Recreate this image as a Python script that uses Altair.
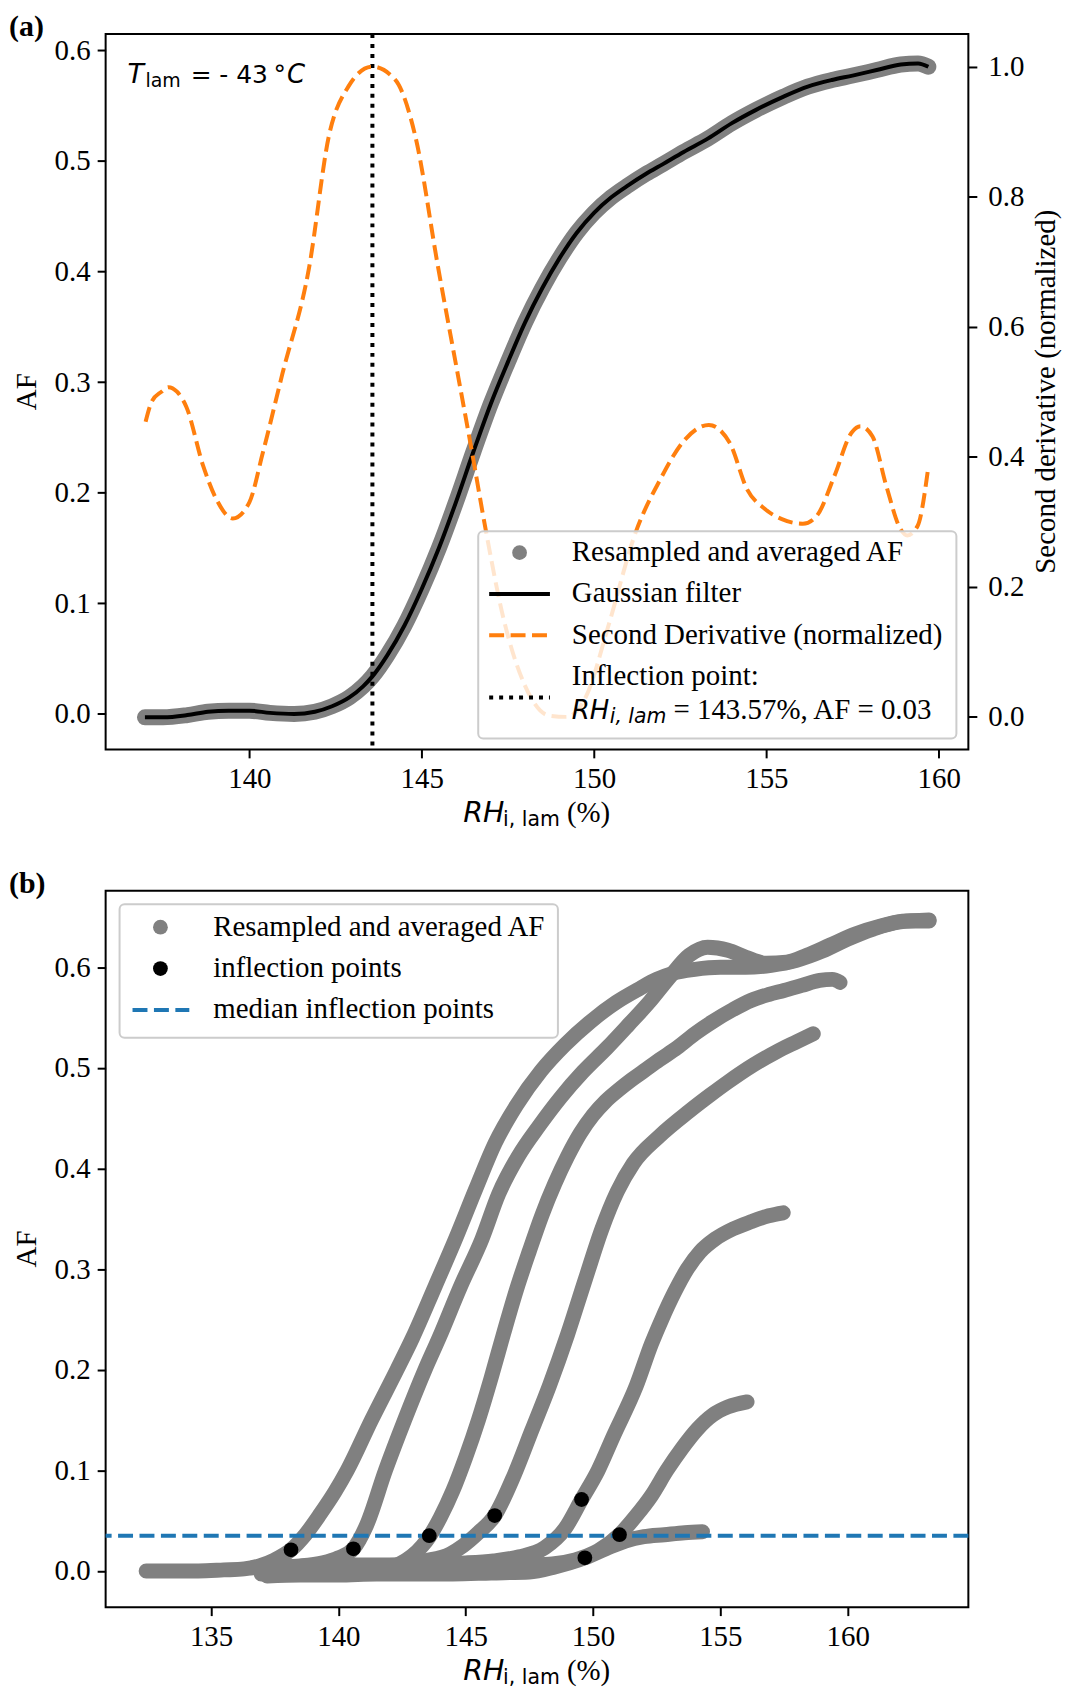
import altair as alt
import pandas as pd

# fonts / colours
SERIF = "Liberation Serif"
SANS = "DejaVu Sans"
GREY = "#808080"
ORANGE = "#ff7f0e"
BLUE = "#1f77b4"

# (a) T_lam = -43 °C : resampled and averaged AF (the Gaussian filter sits on it)
rh_a = [136.97, 137.5, 138.2, 138.8, 139.4, 140.0, 140.6, 141.3, 141.9, 142.4, 142.9,
        143.3, 143.57, 144.0, 144.5, 145.0, 145.5, 146.0, 146.5, 147.0, 147.5, 148.0,
        148.5, 149.0, 149.5, 150.0, 150.5, 151.0, 151.5, 152.0, 152.6, 153.3, 154.0,
        154.7, 155.5, 156.2, 156.9, 157.5, 158.2, 158.9, 159.4, 159.7]
af_a = [-0.003, -0.003, -0.001, 0.002, 0.003, 0.003, 0.001, 0.0, 0.002, 0.007, 0.015,
        0.025, 0.034, 0.053, 0.080, 0.113, 0.150, 0.192, 0.237, 0.280, 0.318, 0.354,
        0.385, 0.412, 0.435, 0.453, 0.467, 0.478, 0.488, 0.497, 0.508, 0.520, 0.534,
        0.546, 0.558, 0.567, 0.573, 0.577, 0.582, 0.587, 0.588, 0.585]

# (a) second derivative, normalized (right axis)
rh_d2 = [136.99, 137.17, 137.45, 137.65, 137.9, 138.17, 138.66, 139.04, 139.52, 140.0,
         140.39, 140.96, 141.73, 142.31, 142.88, 143.56, 144.23, 144.81, 145.48, 146.06,
         146.44, 146.87, 147.37, 147.98, 148.69, 149.19, 149.8, 150.4, 151.21, 151.92,
         152.63, 153.33, 153.94, 154.44, 154.95, 155.45, 156.06, 156.46, 156.97, 157.47,
         157.73, 158.08, 158.48, 158.89, 159.09, 159.39, 159.7]
d2_a = [0.454, 0.485, 0.500, 0.507, 0.500, 0.477, 0.386, 0.335, 0.305, 0.330,
        0.406, 0.528, 0.690, 0.894, 0.970, 1.0, 0.980, 0.894, 0.690, 0.523,
        0.413, 0.284, 0.152, 0.050, 0.002, 0.0, 0.035, 0.137, 0.284, 0.365,
        0.426, 0.449, 0.421, 0.350, 0.320, 0.304, 0.297, 0.309, 0.370, 0.437,
        0.447, 0.431, 0.355, 0.289, 0.279, 0.294, 0.385]

infl_rh_a = [143.57]

# (b) all runs
b1_rh = [132.45, 133.5, 134.5, 135.5, 136.3, 136.9, 137.5, 138.14, 138.7, 139.3, 139.85,
         140.35, 141.3, 142.3, 142.92, 143.8, 144.6, 145.4, 146.15, 147.0, 147.96, 148.9,
         149.9, 150.9, 151.84, 152.5, 153.13, 154.0, 155.0, 156.0, 157.0, 158.0, 159.0,
         160.0, 161.0, 162.0, 163.2]
b1_af = [0.0, 0.0, 0.0, 0.001, 0.002, 0.005, 0.011, 0.021, 0.036, 0.057, 0.078,
         0.100, 0.150, 0.200, 0.232, 0.283, 0.330, 0.380, 0.425, 0.463, 0.497, 0.523,
         0.546, 0.565, 0.579, 0.588, 0.594, 0.598, 0.600, 0.600, 0.602, 0.607, 0.616,
         0.628, 0.638, 0.645, 0.647]

b2_rh = [136.6, 137.5, 138.5, 139.4, 140.0, 140.59, 141.1, 141.85, 142.6, 143.4, 143.96,
         144.8, 145.64, 146.3, 147.06, 147.9, 148.74, 149.6, 150.55, 151.4, 152.23, 153.0,
         153.78, 154.5, 155.3, 156.0, 156.8, 157.6, 158.4, 159.3, 160.3, 161.3, 162.3,
         163.2]
b2_af = [0.003, 0.004, 0.005, 0.008, 0.013, 0.022, 0.045, 0.100, 0.150, 0.200, 0.232,
         0.283, 0.330, 0.375, 0.412, 0.443, 0.471, 0.496, 0.520, 0.543, 0.566, 0.590,
         0.612, 0.620, 0.617, 0.610, 0.604, 0.605, 0.612, 0.622, 0.633, 0.641, 0.646,
         0.646]

b3_rh = rh_a
b3_af = af_a

b4_rh = [137.4, 138.5, 139.5, 140.5, 141.5, 142.5, 143.4, 144.4, 144.9, 145.5, 146.14,
         146.9, 147.6, 148.3, 149.0, 149.7, 150.35, 150.95, 151.58, 152.6, 153.78, 154.6,
         155.3, 156.3, 157.2, 158.0, 158.65]
b4_af = [0.0, 0.002, 0.003, 0.004, 0.005, 0.006, 0.010, 0.017, 0.025, 0.038, 0.055,
         0.095, 0.140, 0.185, 0.235, 0.290, 0.340, 0.377, 0.405, 0.432, 0.457, 0.473,
         0.486, 0.503, 0.516, 0.526, 0.534]

b5_rh = [137.8, 139.0, 140.5, 142.0, 143.5, 145.0, 146.1, 147.1, 148.1, 148.9, 149.55,
         150.2, 150.8, 151.7, 152.3, 152.7, 153.2, 153.7, 154.2, 154.8, 155.5, 156.2,
         156.9, 157.47]
b5_af = [0.004, 0.005, 0.006, 0.006, 0.007, 0.008, 0.010, 0.014, 0.023, 0.042, 0.071,
         0.100, 0.134, 0.184, 0.226, 0.250, 0.277, 0.300, 0.317, 0.330, 0.340, 0.347,
         0.353, 0.356]

b6_rh = [138.2, 140.0, 142.0, 144.0, 146.0, 147.5, 148.4, 149.3, 150.2, 151.04, 151.7,
         152.3, 152.9, 153.5, 154.1, 154.7, 155.3, 156.05]
b6_af = [-0.002, 0.0, 0.002, 0.003, 0.005, 0.006, 0.007, 0.011, 0.020, 0.036, 0.055,
         0.075, 0.100, 0.122, 0.141, 0.155, 0.163, 0.168]

b7_rh = [137.2, 138.5, 140.0, 141.5, 143.0, 144.5, 146.0, 147.5, 148.5, 149.68, 150.5,
         151.3, 152.0, 152.8, 153.6, 154.3]
b7_af = [-0.005, -0.004, -0.004, -0.003, -0.003, -0.003, -0.002, -0.001, 0.004, 0.013,
         0.022, 0.030, 0.034, 0.036, 0.038, 0.039]

# (b) inflection point of each run
infl_rh = [138.14, 140.59, 143.57, 146.14, 149.55, 151.04, 149.68]
infl_af = [0.021, 0.022, 0.035, 0.055, 0.071, 0.036, 0.013]

legend_a = ["Resampled and averaged AF", "Gaussian filter",
            "Second Derivative (normalized)", "Inflection point:"]
legend_b = ["Resampled and averaged AF", "inflection points", "median inflection points"]

W = 866
HA = 718
HB = 719
FS = 29
LX = W - 870  # legend (a) sits in the lower right corner

one = pd.DataFrame({"k": [0]})


def label(x, y, s, font=SERIF, size=FS, style="normal", weight="normal",
          angle=0, align="left", baseline="alphabetic"):
    return alt.Chart(one).mark_text(
        text=s, font=font, fontSize=size, fontStyle=style, fontWeight=weight,
        angle=angle, align=align, baseline=baseline, color="black"
    ).encode(x=alt.value(x), y=alt.value(y))


def swatch_line(x1, x2, y, color, dash=None):
    kw = {} if dash is None else {"strokeDash": dash}
    return alt.Chart(one).mark_rule(color=color, strokeWidth=4, **kw).encode(
        x=alt.value(x1), x2=alt.value(x2), y=alt.value(y))


def swatch_dot(x, y, color):
    return alt.Chart(one).mark_circle(color=color, size=220, opacity=1).encode(
        x=alt.value(x), y=alt.value(y))


def legend_box(x1, x2, y1, y2):
    return alt.Chart(one).mark_rect(
        fill="white", fillOpacity=0.8, stroke="#cccccc", strokeWidth=2, cornerRadius=5
    ).encode(x=alt.value(x1), x2=alt.value(x2), y=alt.value(y1), y2=alt.value(y2))


def rh_title(h):
    cx = W / 2
    return [label(cx - 74, h + 73, "RH", font=SANS, size=28.5, style="italic"),
            label(cx - 34, h + 77, "i, lam", font=SANS, size=20.5),
            label(cx + 30, h + 73, "(%)")]


# ---------------- panel (a)
df_a = pd.DataFrame({"rh": rh_a, "af": af_a})
df_d2 = pd.DataFrame({"rh": rh_d2, "d2": d2_a})

xa = alt.X("rh:Q", title=None,
           scale=alt.Scale(domain=[135.83, 160.86], nice=False, zero=False),
           axis=alt.Axis(values=[140, 145, 150, 155, 160], format="d"))
ya = alt.Y("af:Q", title=None,
           scale=alt.Scale(domain=[-0.032, 0.6145], nice=False, zero=False),
           axis=alt.Axis(values=[0, 0.1, 0.2, 0.3, 0.4, 0.5, 0.6], format=".1f"))

grey_a = alt.Chart(df_a).mark_line(
    color=GREY, strokeWidth=16, strokeCap="round", strokeJoin="round", interpolate="monotone"
).encode(x=xa, y=ya)
gauss_a = alt.Chart(df_a).mark_line(
    color="black", strokeWidth=4, interpolate="monotone"
).encode(x=xa, y=ya)
infl_a = alt.Chart(pd.DataFrame({"rh": infl_rh_a})).mark_rule(
    color="black", strokeWidth=4, strokeDash=[4, 6]
).encode(x=xa)
left_a = alt.layer(grey_a, gauss_a, infl_a)

d2_line = alt.Chart(df_d2).mark_line(
    color=ORANGE, strokeWidth=4, strokeDash=[15, 6.5], interpolate="monotone"
).encode(
    x=xa,
    y=alt.Y("d2:Q", title=None,
            scale=alt.Scale(domain=[-0.05, 1.05], nice=False, zero=False),
            axis=alt.Axis(orient="right", values=[0, 0.2, 0.4, 0.6, 0.8, 1.0],
                          format=".1f", labelPadding=11)),
)

leg_a = [
    legend_box(LX + 378, LX + 858, HA - 219, HA - 11),
    swatch_dot(LX + 419.5, HA - 197.5, GREY),
    swatch_line(LX + 389, LX + 450, HA - 156, "black"),
    swatch_line(LX + 389, LX + 450, HA - 114.5, ORANGE, [15, 6.5]),
    swatch_line(LX + 389, LX + 450, HA - 52, "black", [4, 6]),
    label(LX + 472, HA - 189, legend_a[0]),
    label(LX + 472, HA - 147.5, legend_a[1]),
    label(LX + 472, HA - 106, legend_a[2]),
    label(LX + 472, HA - 64.3, legend_a[3]),
    label(LX + 472, HA - 31, "RH", font=SANS, size=26, style="italic"),
    label(LX + 510, HA - 26, "i, lam", font=SANS, size=20.5, style="italic"),
    label(LX + 574, HA - 31, "= 143.57%, AF = 0.03"),
]

t_lam = [
    label(22, 49.5, "T", font=SANS, size=27, style="italic"),
    label(40, 53, "lam", font=SANS, size=19),
    label(85.5, 49.5, "=", font=SANS, size=25),
    label(114, 49.5, "-", font=SANS, size=25),
    label(131, 49.5, "43", font=SANS, size=25),
    label(168.5, 49.5, "°", font=SANS, size=25),
    label(182, 49.5, "C", font=SANS, size=26, style="italic"),
]

chart_a = alt.layer(
    left_a, d2_line, *leg_a, *t_lam, *rh_title(HA),
    label(-97, -22, "(a)", size=30, weight="bold", baseline="top"),
    label(-78.5, HA / 2, "AF", angle=270, align="center", baseline="middle"),
    label(W + 78, HA / 2, "Second derivative (normalized)", angle=270,
          align="center", baseline="middle"),
).resolve_scale(y="independent").properties(width=W, height=HA)

# ---------------- panel (b)
runs = [(b1_rh, b1_af), (b2_rh, b2_af), (b3_rh, b3_af), (b4_rh, b4_af),
        (b5_rh, b5_af), (b6_rh, b6_af), (b7_rh, b7_af)]
rows = []
for i, (r, a) in enumerate(runs):
    for x, y in zip(r, a):
        rows.append({"run": i, "rh": x, "af": y})
df_b = pd.DataFrame(rows)
df_infl = pd.DataFrame({"rh": infl_rh, "af": infl_af})

xb = alt.X("rh:Q", title=None,
           scale=alt.Scale(domain=[130.86, 164.74], nice=False, zero=False),
           axis=alt.Axis(values=[135, 140, 145, 150, 155, 160], format="d"))
yscale_b = alt.Scale(domain=[-0.036, 0.676], nice=False, zero=False)
yb = alt.Y("af:Q", title=None, scale=yscale_b,
           axis=alt.Axis(values=[0, 0.1, 0.2, 0.3, 0.4, 0.5, 0.6], format=".1f"))

grey_b = alt.Chart(df_b).mark_line(
    color=GREY, strokeWidth=15, strokeCap="round", strokeJoin="round", interpolate="monotone"
).encode(x=xb, y=yb, detail="run:N")
median_b = alt.Chart(df_infl).mark_rule(
    color=BLUE, strokeWidth=4, strokeDash=[15, 6.5]
).encode(y=alt.Y("median(af):Q", scale=yscale_b))
dots_b = alt.Chart(df_infl).mark_circle(color="black", size=220, opacity=1).encode(x=xb, y=yb)

leg_b = [
    legend_box(14, 454, 13.5, 147.5),
    swatch_dot(55, 36.5, GREY),
    swatch_dot(55, 78, "black"),
    swatch_line(27, 84, 119.5, BLUE, [15, 6.5]),
    label(108, 45, legend_b[0]),
    label(108, 86.5, legend_b[1]),
    label(108, 128, legend_b[2]),
]

chart_b = alt.layer(
    grey_b, median_b, dots_b, *leg_b, *rh_title(HB),
    label(-97, -22, "(b)", size=30, weight="bold", baseline="top"),
    label(-78.5, HB / 2, "AF", angle=270, align="center", baseline="middle"),
).properties(width=W, height=HB)

chart = alt.vconcat(chart_a, chart_b, spacing=36).properties(
    padding={"left": 0, "top": 0, "right": 0, "bottom": 0}
).configure_axis(
    labelFont=SERIF, labelFontSize=FS, labelColor="black", tickColor="black",
    tickSize=8.5, tickWidth=2, labelPadding=7, domain=False, grid=False
).configure_view(stroke="black", strokeWidth=2)

chart.save("out.html", embed_options={"renderer": "svg", "actions": False})
